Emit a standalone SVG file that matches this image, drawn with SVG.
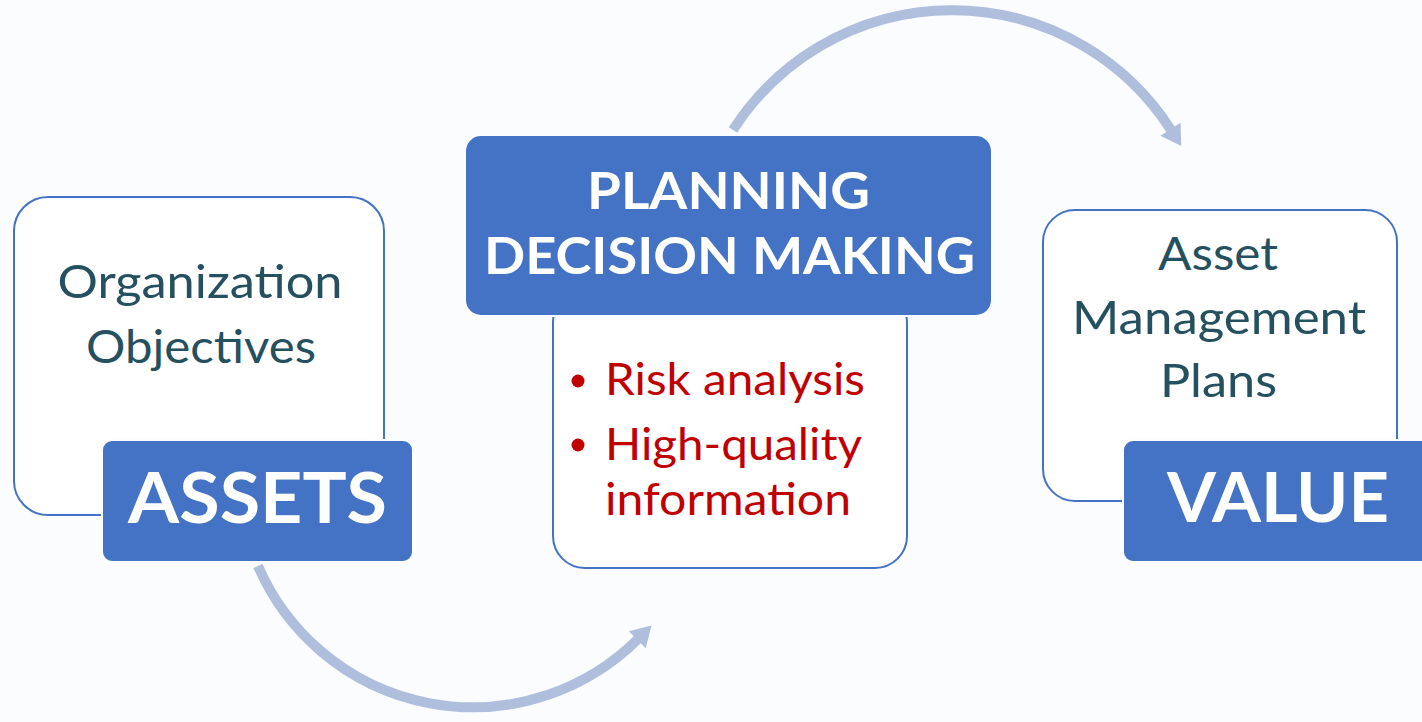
<svg xmlns="http://www.w3.org/2000/svg" width="1422" height="722" viewBox="0 0 1422 722">
<style>
.card{fill:#FFFFFF;stroke:#4472C4;stroke-width:2}
.head{fill:#4472C4;stroke:#FAFCFE;stroke-width:2}
.dark{font-family:Lato,"Open Sans",sans-serif;fill:#24505F;font-size:46px}
.hw{font-family:Lato,"Open Sans",sans-serif;fill:#FFFFFF;font-weight:bold}
.red{font-family:Lato,"Open Sans",sans-serif;fill:#C00000;font-size:45px}
.arc{fill:none;stroke:#B0BEDE;stroke-width:10}
</style>
<defs>
<marker id="ah" markerUnits="userSpaceOnUse" markerWidth="40" markerHeight="40" refX="0" refY="0" orient="auto" overflow="visible">
<path d="M-1,-12 L19,0 L-1,12 z" fill="#B0BEDE"/>
</marker>
</defs>
<rect width="1422" height="722" fill="#FAFCFE"/>
<g id="connectors">
<path class="arc" d="M258,566 A234,234 0 0 0 638,639" marker-end="url(#ah)"/>
<path class="arc" d="M733,130 A260,260 0 0 1 1171,130" marker-end="url(#ah)"/>
</g>
<g id="assets">
<rect class="card" x="14" y="197" width="370" height="318" rx="34"/>
<text class="dark" x="200" y="298" text-anchor="middle" textLength="285" lengthAdjust="spacingAndGlyphs">Organization</text>
<text class="dark" x="201" y="363" text-anchor="middle" textLength="230" lengthAdjust="spacingAndGlyphs">Objectives</text>
<rect class="head" x="102" y="440" width="311" height="122" rx="10"/>
<text class="hw" x="257.5" y="523" font-size="70" text-anchor="middle" textLength="259" lengthAdjust="spacingAndGlyphs">ASSETS</text>
</g>
<g id="planning">
<rect class="card" x="553" y="290" width="354" height="278" rx="32"/>
<rect class="head" x="465" y="135" width="527" height="181" rx="16"/>
<text class="hw" x="728.5" y="209" font-size="52" text-anchor="middle" textLength="283" lengthAdjust="spacingAndGlyphs">PLANNING</text>
<text class="hw" x="729.5" y="274" font-size="52" text-anchor="middle" textLength="491" lengthAdjust="spacingAndGlyphs">DECISION MAKING</text>
<circle cx="578" cy="381" r="6.5" fill="#C00000"/>
<circle cx="578" cy="445" r="6.5" fill="#C00000"/>
<text class="red" x="605" y="395" textLength="260" lengthAdjust="spacingAndGlyphs">Risk analysis</text>
<text class="red" x="605" y="460" textLength="257" lengthAdjust="spacingAndGlyphs">High-quality</text>
<text class="red" x="605" y="515" textLength="246" lengthAdjust="spacingAndGlyphs">information</text>
</g>
<g id="value">
<rect class="card" x="1043" y="210" width="354" height="291" rx="32"/>
<text class="dark" x="1218" y="270" text-anchor="middle" textLength="120" lengthAdjust="spacingAndGlyphs">Asset</text>
<text class="dark" x="1219" y="334" text-anchor="middle" textLength="294" lengthAdjust="spacingAndGlyphs">Management</text>
<text class="dark" x="1218.5" y="397" text-anchor="middle" textLength="117" lengthAdjust="spacingAndGlyphs">Plans</text>
<rect class="head" x="1123" y="440" width="310" height="122" rx="10"/>
<text class="hw" x="1278" y="522" font-size="68" text-anchor="middle" textLength="222" lengthAdjust="spacingAndGlyphs">VALUE</text>
</g>
</svg>
